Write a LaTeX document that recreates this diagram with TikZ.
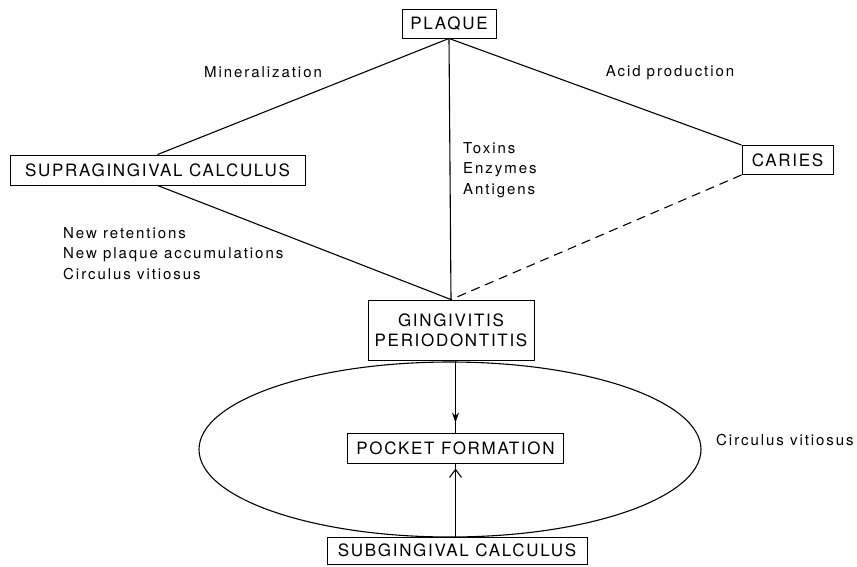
\documentclass[tikz,border=0pt]{standalone}
\usepackage{fontspec}
\setmainfont{TeX Gyre Heros}
\newfontfamily\labfont[LetterSpace=13]{TeX Gyre Heros}
\newfontfamily\boxfont[LetterSpace=10]{TeX Gyre Heros}
\usetikzlibrary{arrows.meta,decorations.markings,shapes.geometric}
\begin{document}
\begin{tikzpicture}[x=1pt,y=-1pt,
  box/.style={draw,line width=0.9pt,inner sep=0pt,fill=white,
    font=\boxfont\fontsize{17}{20}\selectfont,align=center},
  lab/.style={inner sep=0pt,font=\labfont\fontsize{15}{20.5}\selectfont,align=left},
  conn/.style={line width=1.1pt},
  midtip/.style 2 args={postaction={decorate},
    decoration={markings,mark=at position #1 with {\arrow{#2}}}}
]
\useasboundingbox (0,0) rectangle (857,566);
% loop ellipse
\node[draw,ellipse,line width=1.1pt,minimum width=502pt,minimum height=175pt,inner sep=0pt] (loop) at (450,449.5) {};
% boxes
\node[box,minimum width=94pt,minimum height=29pt] (plaque) at (449,23.5) {PLAQUE};
\node[box,minimum width=295pt,minimum height=30pt] (supra) at (157.5,170) {SUPRAGINGIVAL CALCULUS};
\node[box,minimum width=91pt,minimum height=29pt] (caries) at (787.5,160) {CARIES};
\node[box,minimum width=166pt,minimum height=60pt] (ging) at (451,330) {GINGIVITIS\\PERIODONTITIS};
\node[box,minimum width=216pt,minimum height=30pt] (pocket) at (455.5,448) {POCKET FORMATION};
\node[box,minimum width=260pt,minimum height=27pt] (subg) at (457,550.5) {SUBGINGIVAL CALCULUS};
% connectors
\draw[conn] (plaque.south) -- (supra.north);
\draw[conn] (plaque.south) -- (caries.north west);
\draw[conn] (plaque.south) -- (ging.north);
\draw[conn] (supra.south) -- (ging.north);
\draw[conn,dash pattern=on 9pt off 6pt] (caries.south west) -- (ging.north);
\draw[conn,midtip={0.86}{Stealth[length=10pt,width=7pt]}] (pocket.north |- ging.south) -- (pocket.north);
\draw[conn,midtip={0.93}{Straight Barb[length=8pt,width=12pt]}] (pocket.south |- subg.north) -- (pocket.south);
% labels
\node[lab] (mineral) at (263,72) {Mineralization};
\node[lab] (acid) at (670,73) {Acid production};
\node[lab,anchor=north west] (toxins) at (463,142) {Toxins\\Enzymes\\Antigens};
\node[lab,anchor=north west] (newret) at (63,227) {New retentions\\New plaque accumulations\\Circulus vitiosus};
\node[lab,anchor=west] (circ) at (716,440) {Circulus vitiosus};
\end{tikzpicture}
\end{document}
